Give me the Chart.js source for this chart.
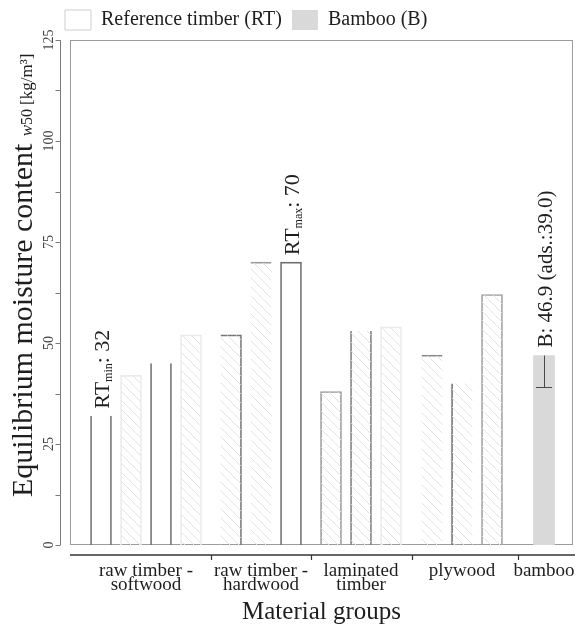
<!DOCTYPE html>
<html>
<head>
<meta charset="utf-8">
<script src="https://cdn.jsdelivr.net/npm/chart.js@4/dist/chart.umd.min.js"></script>
<style>
  html, body { margin: 0; padding: 0; background: #ffffff; }
  #wrap { width: 575px; height: 635px; }
</style>
</head>
<body>
<div id="wrap"><canvas id="chart" width="575" height="635"></canvas></div>
<script>
// ---- data -------------------------------------------------------------
const groupLabels = [['raw timber -', 'softwood'], ['raw timber -', 'hardwood'], ['laminated', 'timber'], 'plywood', 'bamboo'];
const rtSoftwood  = [32, 42, 45, 52];
const rtHardwood  = [52, 70, 70];
const rtLaminated = [38, 53, 54];
const rtPlywood   = [47, 40, 62];
const bambooMean  = 46.9;
const bambooAds   = 39.0;
const yTicks      = [0, 25, 50, 75, 100, 125];

// ---- layout & style ---------------------------------------------------
const SERIF = '"Liberation Serif", "DejaVu Serif", serif';
const TEXT = '#1e1e1e';
const groupStart = [3.1, 16.1, 26.1, 36.2, 47.4];   // x-units (10 px each)
const slotStep = 3;
const rtGroups = [rtSoftwood, rtHardwood, rtLaminated, rtPlywood];

// edge sets per RT bar: S = sides, T = top, TS = top+sides, TR = top+right, L = left
const rtEdges   = ['S', 'TS', 'S', 'TS', 'TR', 'T', 'TS', 'TS', 'S', 'TS', 'T', 'L', 'TS'];
const rtEdgeCol = ['#707070', '#ebebeb', '#707070', '#ebebeb', '#777777', '#999999', '#6e6e6e',
                   '#9a9a9a', '#7e7e7e', '#ebebeb', '#8a8a8a', '#707070', '#a0a0a0'];
const rtHatched = [false, true, false, true, true, true, false, true, true, true, true, true, true];
const edgeWidths = {
  S:  {left: 1, right: 1, top: 0, bottom: 0},
  T:  {left: 0, right: 0, top: 1, bottom: 0},
  TS: {left: 1, right: 1, top: 1, bottom: 0},
  TR: {left: 0, right: 1, top: 1, bottom: 0},
  L:  {left: 1, right: 0, top: 0, bottom: 0}
};

function hatchPattern(color) {
  const c = document.createElement('canvas');
  c.width = 9; c.height = 9;
  const g = c.getContext('2d');
  g.strokeStyle = color; g.lineWidth = 1;
  g.beginPath();
  g.moveTo(-1, -1); g.lineTo(10, 10);
  g.moveTo(-1, 8);  g.lineTo(1, 10);
  g.moveTo(8, -1);  g.lineTo(10, 1);
  g.stroke();
  return g.createPattern(c, 'repeat');
}
const hatch = hatchPattern('#e4e4e4');

// ---- derived points ---------------------------------------------------
const rtPoints = [];
rtGroups.forEach((vals, g) => vals.forEach((v, i) => rtPoints.push({x: groupStart[g] + i * slotStep, y: v})));
const bambooPoints = [{x: groupStart[4], y: bambooMean}];

const groupCenters = groupLabels.map((_, g) =>
  g < rtGroups.length ? groupStart[g] + (rtGroups[g].length - 1) * slotStep / 2 : groupStart[g]);
const groupBounds = rtGroups.map((vals, g) => (groupStart[g] + (vals.length - 1) * slotStep + groupStart[g + 1]) / 2);

const allRT = rtGroups.flat();
const rtMin = Math.min(...allRT);
const rtMax = Math.max(...allRT);
const rtMinIdx = allRT.indexOf(rtMin);
const rtMaxIdx = allRT.lastIndexOf(rtMax);

// ---- plugins ----------------------------------------------------------
const legendShift = {
  id: 'legendShift',
  afterLayout(chart) {
    const l = chart.legend;
    if (l) { l.left += 25; l.right += 25; }
  }
};

const framePlugin = {
  id: 'frame',
  beforeDatasetsDraw(chart) {
    const {ctx, chartArea: a} = chart;
    ctx.save();
    ctx.strokeStyle = '#9c9c9c';
    ctx.lineWidth = 1;
    ctx.strokeRect(a.left + 0.5, a.top + 0.5, a.width - 1, a.height - 1);
    ctx.restore();
  }
};

const axesPlugin = {
  id: 'axesLines',
  afterDraw(chart) {
    const {ctx, chartArea: a, scales: {x, y}} = chart;
    ctx.save();
    // y axis, set off to the left of the plot frame
    const ax = a.left - 10 + 0.5;
    ctx.strokeStyle = '#7a7a7a';
    ctx.lineWidth = 1;
    ctx.beginPath();
    ctx.moveTo(ax, y.getPixelForValue(yTicks[yTicks.length - 1]));
    ctx.lineTo(ax, y.getPixelForValue(yTicks[0]));
    const marks = [];
    yTicks.forEach((v, i) => { marks.push(v); if (i < yTicks.length - 1) marks.push((v + yTicks[i + 1]) / 2); });
    marks.forEach(v => {
      const py = Math.round(y.getPixelForValue(v)) + 0.5;
      ctx.moveTo(ax - 5, py); ctx.lineTo(ax, py);
    });
    ctx.stroke();
    // x axis, set off below the plot frame
    const by = a.bottom + 10;
    ctx.strokeStyle = '#333333';
    ctx.lineWidth = 1.6;
    ctx.beginPath();
    ctx.moveTo(a.left, by); ctx.lineTo(a.right + 2, by);
    ctx.stroke();
    ctx.lineWidth = 1.2;
    ctx.beginPath();
    groupBounds.forEach(v => {
      const px = Math.round(x.getPixelForValue(v)) + 0.5;
      ctx.moveTo(px, by); ctx.lineTo(px, by + 5);
    });
    ctx.stroke();
    ctx.restore();
  }
};

function drawVertical(ctx, cx, yBottom, parts) {
  ctx.save();
  ctx.translate(cx + 8, yBottom);
  ctx.rotate(-Math.PI / 2);
  ctx.textAlign = 'left';
  ctx.textBaseline = 'alphabetic';
  ctx.fillStyle = TEXT;
  let pos = 0;
  parts.forEach(p => {
    ctx.font = (p.style || '') + ' ' + p.size + 'px ' + SERIF;
    ctx.fillText(p.text, pos, p.dy || 0);
    pos += ctx.measureText(p.text).width;
  });
  ctx.restore();
}

const labelsPlugin = {
  id: 'valueLabels',
  afterDatasetsDraw(chart) {
    const {ctx, scales: {x, y}} = chart;
    // bamboo adsorption whisker
    const bx = x.getPixelForValue(bambooPoints[0].x);
    const yTop = y.getPixelForValue(bambooMean);
    const yAds = y.getPixelForValue(bambooAds);
    ctx.save();
    ctx.strokeStyle = '#4a4a4a';
    ctx.lineWidth = 1;
    ctx.beginPath();
    ctx.moveTo(Math.round(bx) + 0.5, yTop); ctx.lineTo(Math.round(bx) + 0.5, yAds);
    ctx.moveTo(bx - 8, Math.round(yAds) + 0.5); ctx.lineTo(bx + 8, Math.round(yAds) + 0.5);
    ctx.stroke();
    ctx.restore();

    const pMin = rtPoints[rtMinIdx], pMax = rtPoints[rtMaxIdx];
    drawVertical(ctx, x.getPixelForValue(pMin.x), y.getPixelForValue(rtMin) - 7, [
      {text: 'RT', size: 22}, {text: 'min', size: 12, dy: 3}, {text: ': ' + rtMin, size: 22}
    ]);
    drawVertical(ctx, x.getPixelForValue(pMax.x), y.getPixelForValue(rtMax) - 7, [
      {text: 'RT', size: 22}, {text: 'max', size: 12, dy: 3}, {text: ': ' + rtMax, size: 22}
    ]);
    drawVertical(ctx, bx, yTop - 8, [
      {text: 'B: ' + bambooMean.toFixed(1) + ' (ads.:' + bambooAds.toFixed(1) + ')', size: 21}
    ]);
  },
  afterDraw(chart) {
    // y axis title with quantity symbol and unit
    const {ctx, chartArea: a} = chart;
    ctx.save();
    ctx.translate(32, a.bottom - 48);
    ctx.rotate(-Math.PI / 2);
    ctx.textAlign = 'left';
    ctx.textBaseline = 'alphabetic';
    ctx.fillStyle = TEXT;
    const main = 'Equilibrium moisture content ';
    ctx.font = '30px ' + SERIF;
    ctx.fillText(main, 0, 0);
    let pos = ctx.measureText(main).width;
    ctx.font = 'italic 17px ' + SERIF;
    ctx.fillText('w', pos, 0); pos += ctx.measureText('w').width;
    ctx.font = '16px ' + SERIF;
    ctx.fillText('50', pos, 0); pos += ctx.measureText('50 ').width;
    ctx.font = '17px ' + SERIF;
    ctx.fillText('[kg/m³]', pos, 0);
    ctx.restore();
  }
};

// ---- chart ------------------------------------------------------------
new Chart(document.getElementById('chart'), {
  type: 'bar',
  data: {
    datasets: [
      {
        label: 'Reference timber (RT)',
        data: rtPoints,
        grouped: false,
        barThickness: 21,
        backgroundColor: ctx => rtHatched[ctx.dataIndex] ? hatch : 'rgba(255,255,255,0)',
        borderColor: ctx => rtEdgeCol[ctx.dataIndex],
        borderWidth: ctx => edgeWidths[rtEdges[ctx.dataIndex]],
        borderSkipped: false
      },
      {
        label: 'Bamboo (B)',
        data: bambooPoints,
        grouped: false,
        barThickness: 21,
        backgroundColor: '#d9d9d9',
        borderWidth: 0
      }
    ]
  },
  options: {
    responsive: false,
    animation: false,
    events: [],
    layout: { autoPadding: false, padding: { left: 30, right: 2, top: 0, bottom: 0 } },
    plugins: {
      tooltip: { enabled: false },
      legend: {
        position: 'top',
        align: 'start',
        labels: {
          boxWidth: 26,
          boxHeight: 20,
          padding: 10,
          color: TEXT,
          font: { family: SERIF, size: 20 },
          generateLabels: () => [
            { text: 'Reference timber (RT)', fillStyle: '#ffffff', strokeStyle: '#cfcfcf', lineWidth: 1, datasetIndex: 0, fontColor: TEXT },
            { text: 'Bamboo (B)', fillStyle: '#d9d9d9', strokeStyle: '#d9d9d9', lineWidth: 0, datasetIndex: 1, fontColor: TEXT }
          ]
        }
      }
    },
    scales: {
      x: {
        type: 'linear',
        min: 0,
        max: 50.3,
        offset: false,
        grid: { display: false },
        border: { display: false },
        afterBuildTicks: s => { s.ticks = groupCenters.map(v => ({ value: v })); },
        ticks: {
          autoSkip: false,
          maxRotation: 0,
          minRotation: 0,
          padding: 11,
          color: TEXT,
          font: { family: SERIF, size: 19, lineHeight: 0.75 },
          callback: (v, i) => groupLabels[i]
        },
        title: {
          display: true,
          text: 'Material groups',
          color: TEXT,
          font: { family: SERIF, size: 25 },
          padding: { top: 0, bottom: 8 }
        },
        afterFit: s => { s.height = 90; s.paddingLeft = 0; s.paddingRight = 0; }
      },
      y: {
        min: 0,
        max: 125,
        grid: { display: false, drawTicks: false },
        border: { display: false },
        afterBuildTicks: s => { s.ticks = yTicks.map(v => ({ value: v })); },
        ticks: {
          minRotation: 90,
          maxRotation: 90,
          crossAlign: 'center',
          padding: 10,
          color: '#444444',
          font: { family: SERIF, size: 14 }
        },
        afterFit: s => { s.width = 40; s.paddingTop = 0; s.paddingBottom = 0; }
      }
    }
  },
  plugins: [legendShift, framePlugin, axesPlugin, labelsPlugin]
});
</script>
</body>
</html>
